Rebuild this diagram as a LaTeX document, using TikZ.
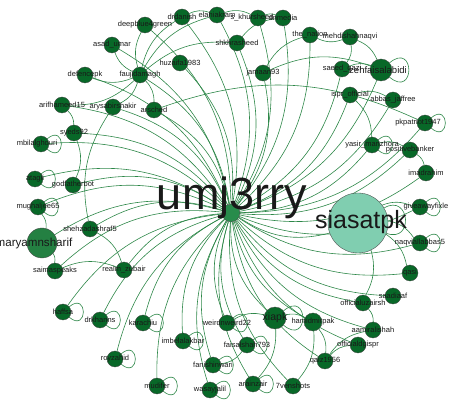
\documentclass[tikz,border=0pt]{standalone}
\usepackage{fontspec}
\setmainfont{Liberation Sans}
\usetikzlibrary{backgrounds}
\definecolor{ndgreen}{RGB}{8,104,40}
\definecolor{ctgreen}{RGB}{40,140,75}
\definecolor{mrgreen}{RGB}{36,128,66}
\definecolor{sialight}{RGB}{128,206,176}
\definecolor{edgreen}{RGB}{45,135,72}
\definecolor{ndline}{RGB}{70,70,70}
\tikzset{
  nd/.style={circle,draw=ndline,line width=0.35pt,fill=ndgreen,minimum size=16pt,inner sep=0pt},
  lbl/.style={font=\fontsize{7.5}{8}\selectfont,text=black!90,inner sep=0pt},
  ed/.style={draw=edgreen,line width=0.6pt},
  selfloop/.style={looseness=6,min distance=7pt}
}
\begin{document}
\begin{tikzpicture}[x=1pt,y=-1pt]
\useasboundingbox (0,0) rectangle (450,403);
% nodes
\node[nd,fill=ctgreen,minimum size=18pt] (c) at (231,213) {};
\node[nd,fill=sialight,minimum size=60pt] (siasatpk) at (358,223) {};
\node[nd,fill=mrgreen,minimum size=30pt] (maryam) at (42,243) {};
\node[nd,minimum size=22pt] (xiapk) at (275,318) {};
\node[nd,minimum size=22pt] (zeh) at (381,70) {};
\node[nd,minimum size=18pt] (hamid) at (313,322) {};
\foreach \n/\x/\y in {
  deepblue/145/25, drdanish/182/17, elahi/217/15, khursheed/258/18, dnmedia/283/18,
  shkh/237/43, thenation/310/35, mehdi/350/37, saeed/342/69, jamaan/263/73,
  ispr/350/95, abbas/393/100, pkpatriot/425/123, yasir/372/145, positive/410/150,
  imad/426/173, giveaway/420/207, naqvi/420/243, qasi/410/273, saadiaaf/393/296,
  uzair/363/303, aamir/373/330, dgispr/358/345, qaiz/325/361, venshots/293/386,
  arainzair/253/384, faisal/247/345, weird/227/323, wasay/210/390, fanish/213/365,
  imbelal/183/341, mudifer/157/386, royzahid/115/359, karachiu/143/323, drkhanns/100/320,
  haffsa/63/312, saima/55/271, realm/124/270, shehzad/90/229, mughal/38/207,
  godfather/73/185, atagii/35/179, mbilal/41/144, syeds/74/133, arif/62/105,
  arysabir/113/107, arsched/154/110, defencepk/85/75, fauji/140/75, asad/112/45,
  huzaifa/180/63}
  \node[nd] (\n) at (\x,\y) {};
% edges
\begin{scope}[on background layer]
\foreach \n in {deepblue, drdanish, elahi, khursheed, dnmedia, shkh, thenation, saeed, zeh, jamaan,
  ispr, abbas, pkpatriot, yasir, positive, imad, giveaway, naqvi, qasi, saadiaaf, uzair, aamir,
  dgispr, qaiz, venshots, hamid, xiapk, arainzair, faisal, weird, wasay, fanish, imbelal, mudifer,
  royzahid, karachiu, drkhanns, haffsa, saima, realm, maryam, shehzad, mughal, godfather, atagii,
  mbilal, syeds, arif, arysabir, arsched, defencepk, fauji, asad, huzaifa, siasatpk}
  \draw[ed] (\n) to[bend left=24] (c);
\foreach \a/\b in {fauji/deepblue, fauji/asad, fauji/defencepk, fauji/arif, fauji/arysabir,
  fauji/drdanish, fauji/arsched, fauji/elahi, fauji/shkh, arif/syeds, syeds/godfather,
  mughal/maryam, maryam/saima, saima/realm, shehzad/realm, shehzad/arysabir,
  mehdi/thenation, mehdi/saeed, mehdi/zeh, saeed/zeh, ispr/abbas, ispr/yasir, jamaan/zeh,
  jamaan/thenation, elahi/khursheed, khursheed/dnmedia, shkh/dnmedia, drdanish/elahi,
  xiapk/hamid, weird/xiapk, xiapk/arainzair, hamid/qaiz, qaiz/dgispr, qaiz/aamir,
  uzair/aamir, siasatpk/uzair, siasatpk/qasi, siasatpk/naqvi, siasatpk/giveaway,
  yasir/positive, positive/imad, arsched/pkpatriot, hamid/venshots, faisal/fanish}
  \draw[ed] (\a) to[bend left=22] (\b);
\foreach \n in {atagii, mughal, haffsa, drkhanns, karachiu, imbelal, royzahid, mudifer, wasay,
  fanish, arainzair, weird, xiapk, naqvi, giveaway, zeh, yasir, mbilal, pkpatriot, faisal}
  \draw[ed] (\n) to[out=40,in=-40,selfloop] (\n);
\draw[ed] (siasatpk) to[out=30,in=-20,min distance=22pt,looseness=3] (siasatpk);
\end{scope}
% labels
\node[lbl,font=\fontsize{45}{45}\selectfont,anchor=base] at (232,210) {umj3rry};
\node[lbl,font=\fontsize{25}{25}\selectfont,anchor=base] at (361,229) {siasatpk};
\node[lbl,font=\fontsize{11.6}{12}\selectfont,anchor=base] at (34,247) {maryamnsharif};
\node[lbl,font=\fontsize{10.5}{11}\selectfont] at (xiapk) {xiapk};
\node[lbl,font=\fontsize{9.5}{10}\selectfont] at (378,70) {zehfaisalabidi};
\foreach \n/\t in {deepblue/deepblue4green, drdanish/drdanish, elahi/elahiakram,
  dnmedia/dnmedia, shkh/shkhrasheed, thenation/the\_nation, mehdi/mehdishahnaqvi,
  saeed/saeed\_qazi, jamaan/jamaan93, ispr/ispr\_official, abbas/abbas\_jaffree,
  yasir/yasir\_manzhora, positive/positivebanker, imad/imadrahim, naqvi/naqviallabbas5,
  qasi/qasi, saadiaaf/saadiaaf, uzair/officialuzairsh, aamir/aamiralishah,
  dgispr/officialdgispr, qaiz/qaiz1956, venshots/7venshots, hamid/hamidmirpak,
  arainzair/arainzair, faisal/faisalshah793, weird/weirdnweird22, wasay/wasayjalil,
  fanish/fanishinwari, imbelal/imbelalakbar, mudifer/mudifer, royzahid/royzahid,
  karachiu/karachiu, drkhanns/drkhanns, haffsa/haffsa, saima/saimaspeaks,
  realm/realm\_zubair, shehzad/shehzadashraf5, mughal/mughaljee65, godfather/godfatherbot,
  atagii/atagii, syeds/syeds92, arif/arifhameed15, arysabir/arysabirshakir,
  arsched/arsched, defencepk/defencepk, fauji/faujidamagh, asad/asad\_umar,
  huzaifa/huzaifa1983}
  \node[lbl] at (\n) {\t};
\node[lbl] at ([xshift=-6pt]khursheed.center) {s\_khursheed};
\node[lbl] at ([xshift=-7pt]pkpatriot.center) {pkpatriot1947};
\node[lbl] at ([xshift=6pt]giveaway.center) {giveawayfixle};
\node[lbl] at ([xshift=-4pt]mbilal.center) {mbilalghouri};
\end{tikzpicture}
\end{document}
